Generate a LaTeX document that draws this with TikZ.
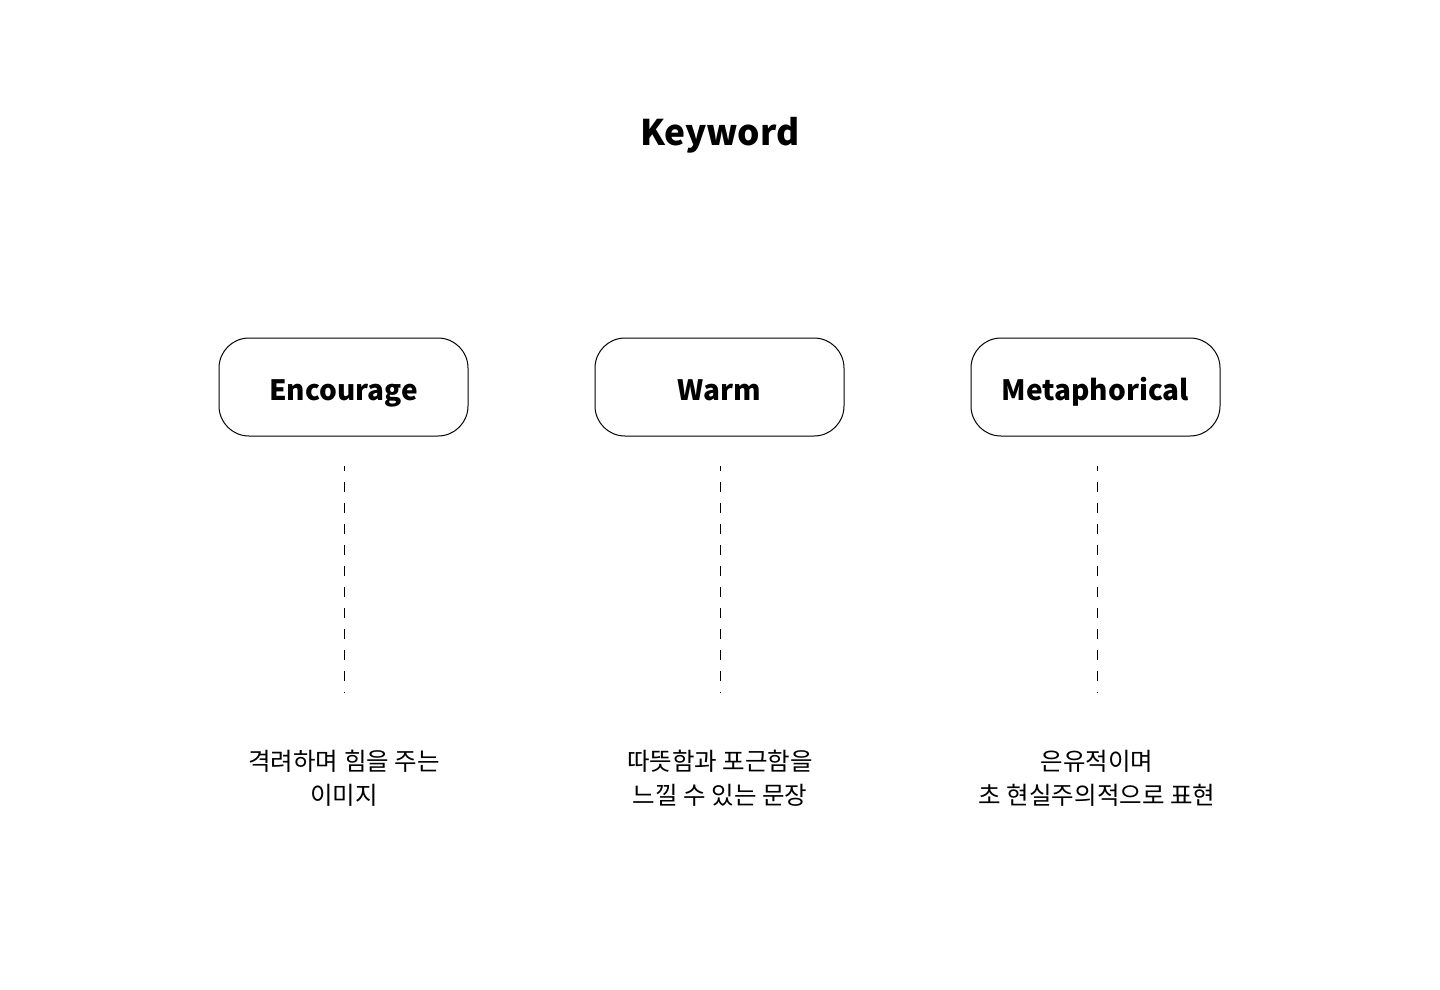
\documentclass[tikz,border=0pt]{standalone}
\usepackage{fontspec}
\setmainfont{Noto Sans CJK KR}
\begin{document}
\begin{tikzpicture}[x=1pt,y=-1pt,
  kwbox/.style={draw=black, line width=1pt, rounded corners=30pt, minimum width=249pt, minimum height=98pt, inner sep=0pt},
  kwlabel/.style={anchor=base, inner sep=0pt, font=\fontsize{28}{34}\selectfont\bfseries},
  desc/.style={align=center, anchor=base, font=\fontsize{24.5}{34}\selectfont, inner sep=0pt},
  dline/.style={draw=black, line width=1pt, dash pattern=on 10pt off 11pt, dash phase=5pt}]
\useasboundingbox[fill=white] (0,0) rectangle (1440,990);
\node[anchor=base, inner sep=0pt, font=\fontsize{35.3}{40}\selectfont\bfseries] (title) at (720,145) {Keyword};
\node[kwbox] (b1) at (343.5,387) {};
\node[kwbox] (b2) at (719.5,387) {};
\node[kwbox] (b3) at (1095.5,387) {};
\node[kwlabel] (l1) at (343.5,400) {Encourage};
\node[kwlabel] (l2) at (719.5,400) {Warm};
\node[kwlabel] (l3) at (1095.5,400) {Metaphorical};
\coordinate (t1) at (344,466); \coordinate (e1) at (344,693);
\coordinate (t2) at (720,466); \coordinate (e2) at (720,693);
\coordinate (t3) at (1097,466); \coordinate (e3) at (1097,693);
\draw[dline] (t1) -- (e1);
\draw[dline] (t2) -- (e2);
\draw[dline] (t3) -- (e3);
\node[desc] (d1) at (344,804) {격려하며 힘을 주는\\이미지};
\node[desc] (d2) at (720,804) {따뜻함과 포근함을\\느낄 수 있는 문장};
\node[desc] (d3) at (1097,804) {은유적이며\\초 현실주의적으로 표현};
\end{tikzpicture}
\end{document}
